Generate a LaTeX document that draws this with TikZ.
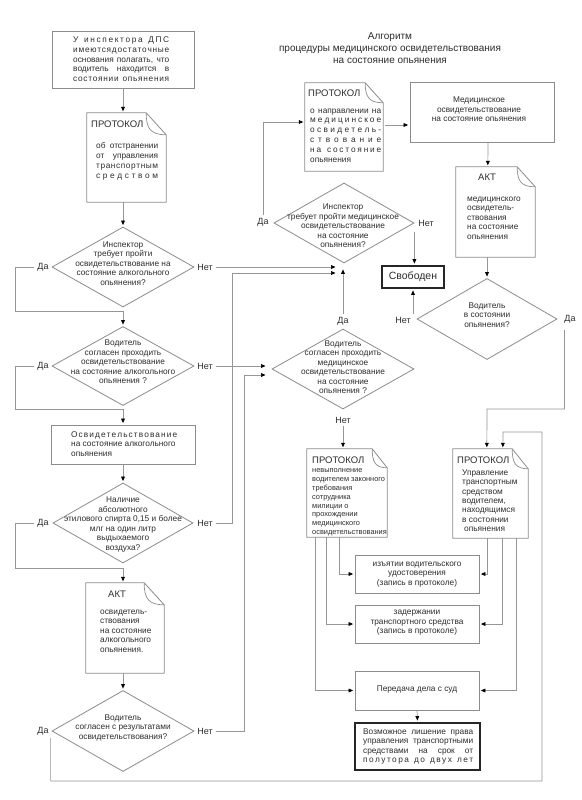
\documentclass[tikz,border=0pt]{standalone}
\usepackage{fontspec}
\setmainfont{Liberation Sans}
\usetikzlibrary{shapes.geometric,arrows.meta,calc}
\definecolor{ln}{RGB}{150,150,150}
\definecolor{bd}{RGB}{140,140,140}
\definecolor{txt}{RGB}{45,45,45}
\ExplSyntaxOn
\NewDocumentCommand \lsp { m m }
 { \hbox_to_wd:nn {#1} { \tl_map_inline:nn {#2} { ##1 \hfil } \unskip } }
\ExplSyntaxOff
\newcommand\jst[2]{\hbox to #1{\spaceskip=0.25em plus 1fil\relax #2}}
\newcommand\docdraw[3]{%
  \draw[draw=bd, line width=0.8pt] (#1.north west) -- ($(#1.north east)+(-#2,0)$) -- ($(#1.north east)+(0,#3)$) -- (#1.south east) -- (#1.south west) -- cycle;
  \draw[draw=bd, line width=0.7pt] ($(#1.north east)+(-#2,0)$) .. controls ($(#1.north east)+(-#2,0.7*#3)$) and ($(#1.north east)+(-0.8*#2,#3)$) .. ($(#1.north east)+(0,#3)$);
}
\tikzset{
  bx/.style={draw=bd, line width=0.8pt, rectangle, inner sep=0pt},
  tbx/.style={draw=black!85, line width=1.8pt, rectangle, inner sep=0pt},
  dia/.style={draw=bd, line width=0.8pt, diamond, inner sep=0pt},
  doc/.style={rectangle, inner sep=0pt},
  tx/.style={inner sep=0pt, text=txt, font=\fontsize{8.3}{9.5}\selectfont, execute at begin node=\strut, execute at end node=\strut},
  txl/.style={tx, align=left, anchor=north west},
  txc/.style={tx, align=center},
  ttl/.style={inner sep=0pt, text=txt, font=\fontsize{9.5}{11}\selectfont},
  lbl/.style={inner sep=0pt, outer sep=3pt, text=txt, font=\fontsize{9}{11}\selectfont},
  cn/.style={draw=ln, line width=0.7pt},
  ar/.style={cn, -{Triangle[length=4.5pt,width=3.8pt,color=black]}, shorten >=1.5pt},
}
\begin{document}
\begin{tikzpicture}[x=1pt,y=-1pt]
\useasboundingbox (0,0) rectangle (581,800);
\fill[white] (0,0) rectangle (581,800);

% title
\node[inner sep=0pt, text=txt, font=\fontsize{10}{12}\selectfont, align=center] (title) at (390,48) {Алгоритм\\процедуры медицинского освидетельствования\\на состояние опьянения};

% ---------- left column
\node[bx, minimum width=142pt, minimum height=57pt] (n1) at (123,59.5) {};
\node[txl, font=\fontsize{8.3}{9.6}\selectfont] (n1t) at (73,37) {\lsp{96pt}{У~инспектора~ДПС}\\\lsp{96pt}{имеютсядостаточные}\\\jst{96pt}{основания полагать, что}\\\jst{96pt}{водитель находится в}\\\lsp{96pt}{состоянии~опьянения}};

\node[doc, minimum width=79pt, minimum height=89pt] (n2) at (126.5,157.5) {};
\docdraw{n2}{20}{22}
\node[ttl, anchor=west] (n2h) at (91,124) {ПРОТОКОЛ};
\node[txl, font=\fontsize{8.3}{9.9}\selectfont] (n2t) at (96,142.4) {\jst{62pt}{об отстранении}\\\jst{62pt}{от управления}\\\lsp{62pt}{транспортным}\\\lsp{62pt}{средством}};

\node[dia, minimum width=142pt, minimum height=80pt] (d1) at (123,267) {};
\node[txc] (d1t) at (123,265) {Инспектор\\требует пройти\\освидетельствование на\\состояние алкогольного\\опьянения?};
\node[lbl] (d1y) at (43,267) {Да};
\node[lbl] (d1n) at (205,267) {Нет};

\node[dia, minimum width=142pt, minimum height=79pt] (d2) at (123,366) {};
\node[txc] (d2t) at (123,363.5) {Водитель\\согласен проходить\\освидетельствование\\на состояние алкогольного\\опьянения ?};
\node[lbl] (d2y) at (43,366) {Да};
\node[lbl] (d2n) at (205,366) {Нет};

\node[bx, minimum width=144pt, minimum height=39pt] (b3) at (123,444.5) {};
\node[txl] (b3t) at (71,431.4) {\lsp{106pt}{Освидетельствование}\\на состояние алкогольного\\опьянения};

\node[dia, minimum width=140pt, minimum height=80pt] (d3) at (123,523) {};
\node[txc] (d3t) at (123,525) {Наличие\\абсолютного\\этилового спирта 0,15 и более\\млг на один литр\\выдыхаемого\\воздуха?};
\node[lbl] (d3y) at (43,523) {Да};
\node[lbl] (d3n) at (205,523) {Нет};

\node[doc, minimum width=78pt, minimum height=90pt] (a4) at (125,628) {};
\docdraw{a4}{20}{22}
\node[ttl] (a4h) at (117,594) {АКТ};
\node[txl] (a4t) at (100,609.5) {освидетель-\\ствования\\на состояние\\алкогольного\\опьянения.};

\node[dia, minimum width=142pt, minimum height=81pt] (d5) at (123,731) {};
\node[txc] (d5t) at (123,728.5) {Водитель\\согласен с результатами\\освидетельствования?};
\node[lbl] (d5y) at (43,731) {Да};
\node[lbl] (d5n) at (205,731) {Нет};

% ---------- right side
\node[doc, minimum width=78pt, minimum height=88pt] (p1) at (344,127) {};
\docdraw{p1}{18}{20}
\node[ttl, anchor=west] (p1h) at (308,93) {ПРОТОКОЛ};
\node[txl, font=\fontsize{8.3}{9.8}\selectfont] (p1t) at (310,108.4) {\jst{71pt}{о направлении на}\\\lsp{71pt}{медицинское}\\\lsp{71pt}{освидетель-}\\\lsp{71pt}{ствование}\\\lsp{71pt}{на~состояние}\\опьянения};

\node[bx, minimum width=144pt, minimum height=60pt] (bmed) at (482,112) {};
\node[txc] (bmedt) at (479,111) {Медицинское\\освидетельствование\\на состояние опьянения};

\node[doc, minimum width=79pt, minimum height=90pt] (p2) at (495.5,212) {};
\docdraw{p2}{18}{20}
\node[ttl] (p2h) at (487,177) {АКТ};
\node[txl] (p2t) at (467,196.4) {медицинского\\освидетель-\\ствования\\на состояние\\опьянения};

\node[dia, minimum width=140pt, minimum height=80pt] (dm1) at (344,223) {};
\node[txc] (dm1t) at (343,227.5) {Инспектор\\требует пройти медицинское\\освидетельствование\\на состояние\\опьянения?};
\node[lbl] (dm1y) at (263,222) {Да};
\node[lbl] (dm1n) at (426,223) {Нет};

\node[tbx, minimum width=62pt, minimum height=22pt, text=txt, font=\fontsize{10.5}{12}\selectfont] (sv) at (413,277) {Свободен};

\node[dia, minimum width=140pt, minimum height=81pt] (dm2) at (487,319) {};
\node[txc] (dm2t) at (487,316.5) {Водитель\\в состоянии\\опьянения?};
\node[lbl] (dm2n) at (403,320) {Нет};
\node[lbl] (dm2y) at (570,319) {Да};

\node[dia, minimum width=142pt, minimum height=80pt] (dm3) at (343,369) {};
\node[txc] (dm3t) at (343,368.5) {Водитель\\согласен проходить\\медицинское\\освидетельствование\\на состояние\\опьянения ?};
\node[lbl] (dm3y) at (343,321) {Да};
\node[lbl] (dm3n) at (343,420) {Нет};

\node[doc, minimum width=80pt, minimum height=88pt] (p3) at (347,493) {};
\docdraw{p3}{15}{19}
\node[ttl, anchor=west] (p3h) at (312,460) {ПРОТОКОЛ};
\node[txl, font=\fontsize{7.4}{8.8}\selectfont] (p3t) at (312,468.7) {невыполнение\\водителем законного\\требования\\сотрудника\\милиции о\\прохождении\\медицинского\\освидетельствования};

\node[doc, minimum width=75pt, minimum height=89pt] (p4) at (490.5,493.5) {};
\docdraw{p4}{16}{20}
\node[ttl, anchor=west] (p4h) at (457,460) {ПРОТОКОЛ};
\node[txl, font=\fontsize{8.3}{9.35}\selectfont] (p4t) at (462,469.5) {Управление\\транспортным\\средством\\водителем,\\находящимся\\в состоянии\\\hspace*{2pt}опьянения};

\node[bx, minimum width=124pt, minimum height=38pt] (biz) at (417,574) {};
\node[txc] (bizt) at (417,575) {изъятии водительского\\удостоверения\\(запись в протоколе)};
\node[bx, minimum width=124pt, minimum height=38pt] (bzad) at (417,624) {};
\node[txc] (bzadt) at (417,623.5) {задержании\\транспортного средства\\(запись в протоколе)};
\node[bx, minimum width=124pt, minimum height=39pt] (bper) at (417,690.5) {};
\node[txc] (bpert) at (417,690) {Передача дела с суд};
\node[tbx, minimum width=125pt, minimum height=47pt] (bvoz) at (417.5,746.5) {};
\node[txl] (bvozt) at (363,728.4) {\jst{110pt}{Возможное лишение права}\\\jst{110pt}{управления транспортными}\\\jst{110pt}{средствами на срок от}\\\lsp{110pt}{полутора~до~двух~лет}};

% junction points
\coordinate (j1a) at (337,267);
\coordinate (j1b) at (337,273);
\coordinate (j2a) at (267,366);
\coordinate (j2b) at (267,375);

% ---------- connectors
\draw[ar] (n1.south) -- (n1.south |- n2.north);
\draw[ar] (d1.north |- n2.south) -- (d1.north);
\draw[ar] (d1y.west) -| (15,311) -| (d2.north);
\draw[ar] (d1n.east) -- (j1a);
\draw[ar] (d2y.west) -| (15,409) -| (b3.north);
\draw[ar] (d2n.east) -- (j2a);
\draw[ar] (b3.south) -- (d3.north);
\draw[ar] (d3y.west) -| (15,568) -| (d3.south |- a4.north);
\draw[ar] (d3n.east) -| (232,273) -- (j1b);
\draw[ar] (d5.north |- a4.south) -- (d5.north);
\draw[ar] (d5n.east) -| (244,375) -- (j2b);
\draw[ar] ($(d5.west)+(-1,7)$) |- (542,781) |- (503,432) -- ($(p4.north west)+(50,0)$);

\draw[ar] (dm1y.north) |- ($(p1.west)+(0,-5)$);
\draw[ar] ($(p1.east)+(2,-2)$) -- ($(bmed.west)+(0,13)$);
\draw[ar] ($(bmed.south)+(6,0)$) -- ($(p2.north west)+(32,0)$);
\draw[ar] (dm2.north |- p2.south) -- (dm2.north);
\draw[ar, shorten <=9pt] (dm1.east) -- (dm1.east |- sv.north);
\draw[ar] (sv.south |- dm2n.north) -- (sv.south);
\draw[ar] ($(dm2.east)+(7,11)$) |- (487,409) -- ($(p4.north west)+(34,0)$);
\draw[ar, shorten >=6pt] (dm3y.north) -- (dm3y.north |- dm1.south);
\draw[ar] (dm3n.south) -- (dm3n.south |- p3.north);
\draw[ar] ($(p3.south west)+(33,0)$) |- (biz.west);
\draw[ar] ($(p3.south west)+(20,0)$) |- (bzad.west);
\draw[ar] ($(p3.south west)+(9,0)$) |- (bper.west);
\draw[ar] ($(p4.south west)+(35,0)$) |- (biz.east);
\draw[ar] ($(p4.south west)+(50,0)$) |- (bzad.east);
\draw[ar] ($(p4.south west)+(64,0)$) |- (bper.east);
\draw[ar] (bper.south) -- (bvoz.north);
\end{tikzpicture}
\end{document}
